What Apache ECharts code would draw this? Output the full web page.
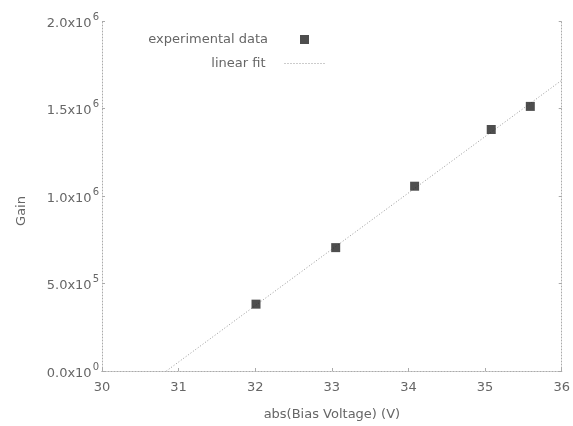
<!DOCTYPE html>
<html>
<head>
<meta charset="utf-8">
<script src="https://cdn.jsdelivr.net/npm/echarts@6/dist/echarts.min.js"></script>
<style>
  html, body { margin: 0; padding: 0; background: #fff; }
  #chart { width: 573px; height: 426px; }
</style>
</head>
<body>
<div id="chart"></div>
<script>
// Measured gain versus bias voltage
const voltage = [32.01, 33.05, 34.08, 35.08, 35.59];
const gain = [382000, 705000, 1056000, 1380000, 1512000];

// Linear fit: gain = slope * (V - zeroVoltage)
const fitSlope = 322000;
const fitZeroVoltage = 30.84;
const fitVoltage = [fitZeroVoltage, 36];

const xTicks = [30, 31, 32, 33, 34, 35, 36];
const yTicks = [0, 500000, 1000000, 1500000, 2000000];

const fitPoints = fitVoltage.map(v => [v, fitSlope * (v - fitZeroVoltage)]);
const dataPoints = voltage.map((v, i) => [v, gain[i]]);

const textColor = '#666';
const axisColor = '#aaa';
const fontFamily = '"DejaVu Sans", sans-serif';
const fontSize = 13;

function sciLabel(value) {
  if (value === 0) return '{m|0.0x10}{e|0}';
  const exp = Math.floor(Math.log10(value));
  const mant = (value / Math.pow(10, exp)).toFixed(1);
  return '{m|' + mant + 'x10}{e|' + exp + '}';
}

const dottedLine = { show: true, lineStyle: { color: axisColor, type: [1, 2], width: 1 } };
const labelText = { color: textColor, fontSize: fontSize, fontFamily: fontFamily };

const chart = echarts.init(document.getElementById('chart'), null, { renderer: 'canvas' });
chart.setOption({
  animation: false,
  backgroundColor: '#fff',
  textStyle: { fontFamily: fontFamily },
  grid: { left: 102, right: 10, top: 21, bottom: 51, containLabel: false },
  legend: [
    {
      data: [{ name: 'experimental data', icon: 'rect' }],
      right: 259, top: 28,
      orient: 'vertical', align: 'right',
      itemWidth: 9, itemHeight: 9,
      textStyle: Object.assign({ padding: [0, 27, 0, 0] }, labelText)
    },
    {
      data: [{ name: 'linear fit', itemStyle: { opacity: 0 } }],
      right: 241, top: 52,
      orient: 'vertical', align: 'right',
      itemWidth: 42, itemHeight: 10,
      lineStyle: { color: '#999', type: [1, 2], width: 1 },
      textStyle: Object.assign({ padding: [0, 14, 0, 0] }, labelText)
    }
  ],
  xAxis: [
    {
      type: 'value', min: xTicks[0], max: xTicks[xTicks.length - 1], interval: 1,
      name: 'abs(Bias Voltage) (V)', nameLocation: 'middle', nameGap: 37,
      nameTextStyle: labelText,
      axisLine: dottedLine,
      axisTick: { show: true, inside: true, length: 3, lineStyle: { color: axisColor } },
      axisLabel: Object.assign({ margin: 10 }, labelText),
      splitLine: { show: false }
    },
    {
      type: 'value', position: 'top', min: xTicks[0], max: xTicks[xTicks.length - 1], interval: 1,
      axisLine: dottedLine,
      axisTick: { show: false },
      axisLabel: { show: false },
      splitLine: { show: false }
    }
  ],
  yAxis: [
    {
      type: 'value', min: yTicks[0], max: yTicks[yTicks.length - 1], interval: 500000,
      name: 'Gain', nameLocation: 'middle', nameGap: 74, nameRotate: 90,
      nameTextStyle: Object.assign({ padding: [0, 30, 0, 0] }, labelText),
      axisLine: dottedLine,
      axisTick: { show: true, inside: true, length: 3, lineStyle: { color: axisColor } },
      axisLabel: {
        color: textColor, margin: 3, fontFamily: fontFamily,
        formatter: sciLabel,
        rich: {
          m: { fontSize: fontSize, color: textColor, fontFamily: fontFamily, verticalAlign: 'bottom' },
          e: { fontSize: 10, color: textColor, fontFamily: fontFamily, verticalAlign: 'bottom', padding: [0, 0, 8, 1] }
        }
      },
      splitLine: { show: false }
    },
    {
      type: 'value', position: 'right', min: yTicks[0], max: yTicks[yTicks.length - 1], interval: 500000,
      axisLine: dottedLine,
      axisTick: { show: true, inside: true, length: 3, lineStyle: { color: axisColor } },
      axisLabel: { show: false },
      splitLine: { show: false }
    }
  ],
  series: [
    {
      name: 'experimental data',
      type: 'scatter',
      data: dataPoints,
      symbol: 'rect',
      symbolSize: 9,
      itemStyle: { color: '#222' },
      z: 3
    },
    {
      name: 'linear fit',
      type: 'line',
      data: fitPoints,
      showSymbol: false,
      symbol: 'none',
      lineStyle: { color: '#999', width: 1, type: [1, 2] },
      itemStyle: { color: '#999' },
      z: 2
    }
  ]
});
</script>
</body>
</html>
